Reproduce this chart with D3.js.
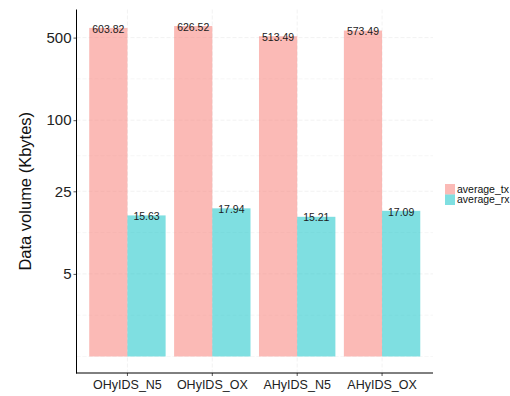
<!DOCTYPE html>
<html><head><meta charset="utf-8">
<script src="https://cdn.jsdelivr.net/npm/d3@7"></script>
<style>body{margin:0;background:#fff}svg{display:block}text{font-family:"Liberation Sans",Arial,sans-serif}</style>
</head><body><svg id="c" width="510" height="396"></svg>
<script>
const categories = ["OHyIDS_N5","OHyIDS_OX","AHyIDS_N5","AHyIDS_OX"];
const series = ["average_tx","average_rx"];
const averageTx = [603.82, 626.52, 513.49, 573.49];
const averageRx = [15.63, 17.94, 15.21, 17.09];
const yTicks = [5, 25, 100, 500];
const colors = ["#F8766D", "#00BFC4"];

const svg = d3.select("#c");
const X0 = 76.5, X1 = 433, Y0 = 9.5, Y1 = 373;

const values = [averageTx, averageRx];
const lmax = Math.log10(d3.max(values.flat()));
const lmin = 0;
const ex = (lmax - lmin) * 0.05;
const y = d3.scaleLog().domain([Math.pow(10, lmin - ex), Math.pow(10, lmax + ex)]).range([Y1, Y0]);
const x = d3.scaleBand().domain(categories).range([X0, X1]).paddingInner(0.1).paddingOuter(0.15);
const xs = d3.scaleBand().domain(series).range([0, x.bandwidth()]);

// grid: minor (log-space midpoints, extended) and major
const lb = yTicks.map(Math.log10);
const bd = lb[1] - lb[0];
const ext = [lb[0] - bd, ...lb, lb[lb.length - 1] + bd];
const minor = [];
for (let i = 0; i < ext.length - 1; i++) { minor.push(ext[i], (ext[i] + ext[i + 1]) / 2); }
const [dl0, dl1] = y.domain().map(Math.log10);
const gridVals = minor.filter(v => v >= dl0 && v <= dl1 && !lb.some(b => Math.abs(b - v) < 1e-9)).map(v => Math.pow(10, v));
const g = svg.append("g");
g.selectAll("line.mi").data(gridVals).join("line")
  .attr("x1", X0).attr("x2", X1).attr("y1", d => y(d)).attr("y2", d => y(d))
  .attr("stroke", "#f0f0f0").attr("stroke-width", 0.6).attr("stroke-dasharray", "4,2");
g.selectAll("line.ma").data(yTicks).join("line")
  .attr("x1", X0).attr("x2", X1).attr("y1", d => y(d)).attr("y2", d => y(d))
  .attr("stroke", "#ececec").attr("stroke-width", 0.7).attr("stroke-dasharray", "4,2");
g.selectAll("line.vx").data(categories).join("line")
  .attr("x1", d => x(d) + x.bandwidth() / 2).attr("x2", d => x(d) + x.bandwidth() / 2)
  .attr("y1", Y0).attr("y2", Y1)
  .attr("stroke", "#ececec").attr("stroke-width", 0.7).attr("stroke-dasharray", "4,2");

// bars
const base = 1;
series.forEach((s, si) => {
  svg.append("g").selectAll("rect").data(categories).join("rect")
    .attr("x", d => x(d) + xs(s))
    .attr("width", xs.bandwidth())
    .attr("y", (d, i) => y(values[si][i]))
    .attr("height", (d, i) => y(base) - y(values[si][i]))
    .attr("fill", colors[si]).attr("fill-opacity", 0.5);
});
series.forEach((s, si) => {
  svg.append("g").selectAll("text").data(categories).join("text")
    .attr("x", d => x(d) + xs(s) + xs.bandwidth() / 2)
    .attr("y", (d, i) => y(values[si][i]) + 1)
    .attr("dy", "0.35em")
    .attr("text-anchor", "middle").attr("font-size", 10.5).attr("fill", "#1a1a1a")
    .text((d, i) => values[si][i].toFixed(2));
});

// axes
const yAxis = svg.append("g").attr("transform", `translate(${X0},0)`)
  .call(d3.axisLeft(y).tickValues(yTicks).tickFormat(d3.format("d")).tickSize(3).tickPadding(2));
yAxis.select(".domain").remove();
yAxis.selectAll(".tick line").attr("stroke", "#555");
yAxis.selectAll(".tick text").attr("font-size", 15).attr("fill", "#222").attr("font-family", "Liberation Sans, Arial, sans-serif");
const xAxis = svg.append("g").attr("transform", `translate(0,${Y1})`)
  .call(d3.axisBottom(x).tickSize(3).tickPadding(4));
xAxis.select(".domain").remove();
xAxis.selectAll(".tick line").attr("stroke", "#555");
xAxis.selectAll(".tick text").attr("font-size", 12.5).attr("fill", "#222").attr("font-family", "Liberation Sans, Arial, sans-serif");

svg.append("line").attr("x1", X0).attr("x2", X0).attr("y1", Y0).attr("y2", Y1 + 0.5).attr("stroke", "#000").attr("stroke-width", 1);
svg.append("line").attr("x1", X0 - 0.5).attr("x2", X1).attr("y1", Y1).attr("y2", Y1).attr("stroke", "#000").attr("stroke-width", 1);

svg.append("text").attr("transform", `translate(31,${(Y0 + Y1) / 2}) rotate(-90)`)
  .attr("text-anchor", "middle").attr("font-size", 16.5).attr("fill", "#111")
  .text("Data volume (Kbytes)");

// legend
const lg = svg.append("g").attr("transform", "translate(445,184)");
series.forEach((s, i) => {
  lg.append("rect").attr("x", 0).attr("y", i * 10.5).attr("width", 10).attr("height", 10.5)
    .attr("fill", colors[i]).attr("fill-opacity", 0.5);
  lg.append("text").attr("x", 12).attr("y", i * 10.5 + 5.25).attr("dy", "0.35em")
    .attr("font-size", 10.5).attr("fill", "#111").text(s);
});
</script></body></html>
